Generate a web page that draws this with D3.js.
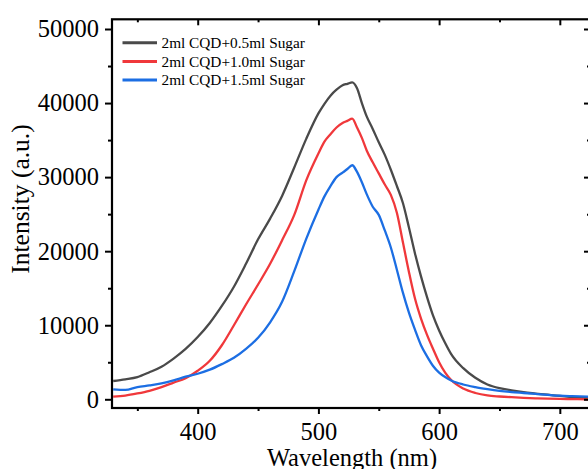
<!DOCTYPE html>
<html>
<head>
<meta charset="utf-8">
<script src="https://cdn.jsdelivr.net/npm/d3@7"></script>
<style>
  body { margin: 0; background: #fff; }
  text { font-family: "Liberation Serif", "Times New Roman", serif; fill: #000; }
</style>
</head>
<body>
<script>
// wavelength (nm) shared by all three spectra
const wavelength = [330,340,350,360,370,380,390,400,410,420,430,440,450,460,470,480,490,500,505,510,515,520,524,528,532,536,540,545,550,555,560,565,570,575,580,585,590,595,600,605,610,620,630,640,650,660,670,680,690,700,710,725]

const sugar05 = [2470,2700,3000,3650,4400,5500,6800,8400,10300,12600,15200,18300,21600,24400,27500,31300,35200,38600,39900,41000,41800,42400,42600,42800,42000,40000,38200,36500,34700,33000,31000,28800,26500,23200,19700,16600,13800,11300,9300,7600,6100,4200,2900,2000,1500,1200,950,780,620,450,300,130]

const sugar10 = [350,500,790,1150,1650,2250,2850,3850,5200,7300,10000,12800,15500,18300,21500,24900,29600,33200,34800,35800,36700,37300,37600,37900,36700,35300,33600,32000,30500,29000,27600,25200,21200,17200,13600,10900,8700,6800,5000,3600,2600,1450,850,520,380,280,200,130,80,50,20,0]

const sugar15 = [1350,1260,1650,1880,2150,2550,3050,3450,4000,4750,5600,6800,8300,10400,13200,17300,21700,25600,27400,28800,30000,30600,31100,31600,30700,29300,27700,26000,24900,22800,20500,17500,14400,11700,9400,7300,5800,4500,3600,3000,2550,2000,1650,1380,1150,980,850,720,600,490,420,340]

const seriesNames = ['2ml CQD+0.5ml Sugar', '2ml CQD+1.0ml Sugar', '2ml CQD+1.5ml Sugar']
const seriesColors = ['#4a4a4a', '#f0383b', '#1c6ee3']
const allSeries = [sugar05, sugar10, sugar15]

const xTicks = [400, 500, 600, 700]
const xMinor = [350, 450, 550, 650]
const yTicks = [0, 10000, 20000, 30000, 40000, 50000]
const yMinor = [5000, 15000, 25000, 35000, 45000]

let width = 588
let height = 469
let plotLeft = 112, plotRight = 590, plotTop = 19.3, plotBottom = 408

const svg = d3.select('body')
  .append('svg')
  .attr('width', width)
  .attr('height', height)

const x = d3.scaleLinear().domain([329, 725]).range([plotLeft, plotRight])
const y = d3.scaleLinear().domain([-1175, 51310]).range([plotBottom, plotTop])

// clip for curves
svg.append('clipPath').attr('id', 'plot-clip')
  .append('rect')
  .attr('x', plotLeft).attr('y', plotTop)
  .attr('width', plotRight - plotLeft).attr('height', plotBottom - plotTop)

const line = d3.line()
  .x((d, i) => x(wavelength[i]))
  .y(d => y(d))
  .curve(d3.curveMonotoneX)

svg.append('g')
  .attr('clip-path', 'url(#plot-clip)')
  .selectAll('path')
  .data(allSeries)
  .enter()
  .append('path')
  .attr('d', d => line(d))
  .attr('fill', 'none')
  .attr('stroke', (d, i) => seriesColors[i])
  .attr('stroke-width', 2.3)
  .attr('stroke-linejoin', 'round')

// bottom axis (ticks outward)
const bottomAxis = svg.append('g')
  .attr('transform', `translate(0,${plotBottom})`)
  .call(d3.axisBottom(x).tickValues(xTicks).tickFormat(d3.format('d')).tickSize(6).tickPadding(9).tickSizeOuter(0))
bottomAxis.append('g')
  .call(d3.axisBottom(x).tickValues(xMinor).tickSize(3).tickFormat('').tickSizeOuter(0))

// left axis (ticks outward)
const leftAxis = svg.append('g')
  .attr('transform', `translate(${plotLeft},0)`)
  .call(d3.axisLeft(y).tickValues(yTicks).tickFormat(d3.format('d')).tickSize(7).tickPadding(6).tickSizeOuter(0))
leftAxis.append('g')
  .call(d3.axisLeft(y).tickValues(yMinor).tickSize(4).tickFormat('').tickSizeOuter(0))

// top axis (ticks inward)
const topAxis = svg.append('g')
  .attr('transform', `translate(0,${plotTop})`)
  .call(d3.axisBottom(x).tickValues(xTicks).tickSize(6).tickFormat('').tickSizeOuter(0))
topAxis.append('g')
  .call(d3.axisBottom(x).tickValues(xMinor).tickSize(3).tickFormat('').tickSizeOuter(0))

// right axis (ticks inward)
const rightAxis = svg.append('g')
  .attr('transform', `translate(${plotRight},0)`)
  .call(d3.axisLeft(y).tickValues(yTicks).tickSize(6).tickFormat('').tickSizeOuter(0))
rightAxis.append('g')
  .call(d3.axisLeft(y).tickValues(yMinor).tickSize(3).tickFormat('').tickSizeOuter(0))

svg.selectAll('.domain').remove()
svg.selectAll('.tick line').attr('stroke', '#000').attr('stroke-width', 2)
svg.selectAll('.tick text')
  .style('font-size', '24.5px')
  .style('font-family', '"Liberation Serif", serif')
  .attr('fill', '#000')

// frame
svg.append('rect')
  .attr('x', plotLeft).attr('y', plotTop)
  .attr('width', plotRight - plotLeft).attr('height', plotBottom - plotTop)
  .attr('fill', 'none')
  .attr('stroke', '#000')
  .attr('stroke-width', 2.2)

// axis titles
svg.append('text')
  .attr('x', (plotLeft + plotRight) / 2 + 1)
  .attr('y', 465.5)
  .attr('text-anchor', 'middle')
  .style('font-size', '24.5px')
  .text('Wavelength (nm)')

svg.append('text')
  .attr('transform', 'translate(28.5,199) rotate(-90)')
  .attr('text-anchor', 'middle')
  .style('font-size', '25.5px')
  .text('Intensity (a.u.)')

// legend
const legend = svg.append('g').attr('id', 'legend')
seriesNames.forEach((name, i) => {
  const ly = 42.7 + i * 18.7
  legend.append('line')
    .attr('x1', 122.5).attr('x2', 157)
    .attr('y1', ly).attr('y2', ly)
    .attr('stroke', seriesColors[i])
    .attr('stroke-width', 3)
  legend.append('text')
    .attr('x', 161.5)
    .attr('y', ly + 5.3)
    .style('font-size', '15.3px')
    .text(name)
})
</script>
</body>
</html>
